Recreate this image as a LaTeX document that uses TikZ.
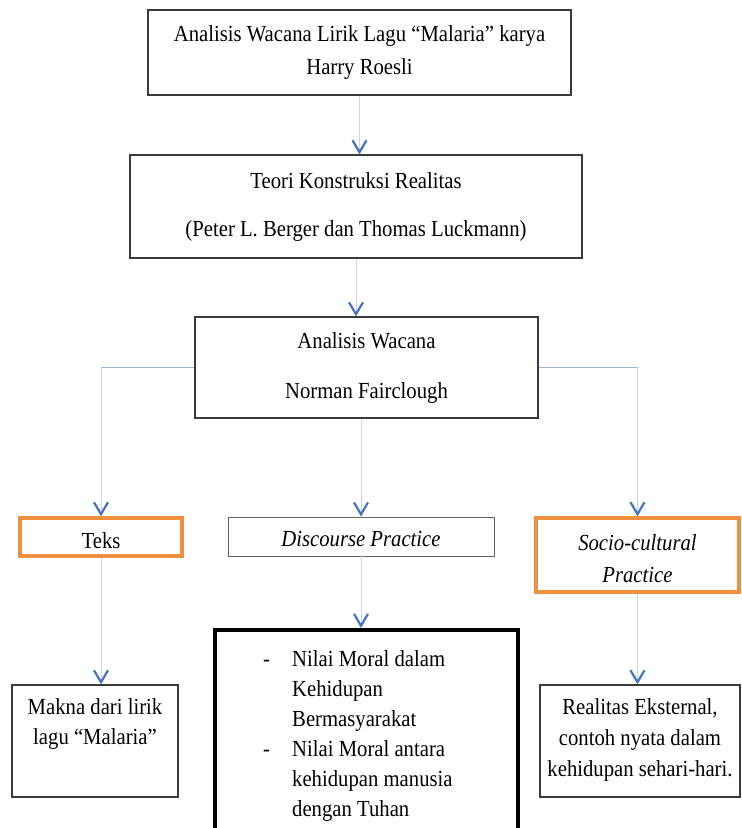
\documentclass[tikz,border=0pt]{standalone}
\usepackage{fontspec}
\setmainfont{Liberation Serif}[FakeStretch=0.9]
\usetikzlibrary{arrows.meta}
\definecolor{chev}{HTML}{4472C4}
\definecolor{connc}{HTML}{D0D5DC}
\definecolor{hlinec}{HTML}{9DB5D8}
\definecolor{orng}{HTML}{F0913F}
\definecolor{boxc}{HTML}{3A3A3A}
\begin{document}
\begin{tikzpicture}[x=1pt,y=-1pt,
  txt/.style={font=\fontsize{23}{33}\selectfont},
  box/.style={draw=boxc,line width=1.1pt,fill=white,align=center,inner sep=0pt,txt},
  obox/.style={draw=orng,line width=3.2pt,fill=white,align=center,inner sep=0pt,txt},
  conn/.style={draw=connc,line width=1pt,-{Straight Barb[length=12pt,width=14pt,line width=2.2pt,color=chev]}},
  hline/.style={draw=hlinec,line width=1pt}]
\useasboundingbox (0,0) rectangle (742,828);
\clip (0,0) rectangle (742,828);
\fill[white] (0,0) rectangle (742,828);

\node[box,minimum width=423pt,minimum height=85pt] (b1) at (359.5,52.5)
  {Analisis Wacana Lirik Lagu “Malaria” karya\\Harry Roesli};
\node[box,minimum width=452pt,minimum height=103pt] (b2) at (356,206.5)
  {Teori Konstruksi Realitas\\[15pt](Peter L. Berger dan Thomas Luckmann)};
\node[box,minimum width=343pt,minimum height=101pt] (b3) at (366.5,367.5)
  {Analisis Wacana\\[17pt]Norman Fairclough};

\node[obox,minimum width=162pt,minimum height=38pt] (teks) at (101,537) {\rule{0pt}{24pt}Teks};
\node[box,draw=boxc!80,line width=0.8pt,minimum width=266pt,minimum height=39pt] (disc) at (361,536.5)
  {\rule{0pt}{21pt}\itshape Discourse Practice};
\node[obox,minimum width=203pt,minimum height=74pt] (socio) at (637.5,555)
  {\rule{0pt}{24pt}\itshape Socio-cultural\\[-1pt]\itshape Practice};

\node[box,minimum width=166pt,minimum height=112pt] (mk) at (95,741) {};
\node[txt,align=center,inner sep=0pt,anchor=north] (mkt) at (95,698)
  {Makna dari lirik\\[-3pt]lagu “Malaria”};
\node[box,minimum width=200pt,minimum height=112pt] (rl) at (640,741) {};
\node[txt,align=center,inner sep=0pt,anchor=north] (rlt) at (640,698)
  {Realitas Eksternal,\\[-2pt]contoh nyata dalam\\[-2pt]kehidupan sehari-hari.};

\node[draw=black,line width=4pt,fill=white,minimum width=303pt,minimum height=220pt,inner sep=0pt] (mid) at (366.5,740) {};
\node[font=\fontsize{23}{30}\selectfont,align=left,inner sep=0pt,anchor=north west] (midt) at (263,650)
  {\makebox[29pt][l]{-}Nilai Moral dalam\\
   \hspace*{29pt}Kehidupan\\
   \hspace*{29pt}Bermasyarakat\\
   \makebox[29pt][l]{-}Nilai Moral antara\\
   \hspace*{29pt}kehidupan manusia\\
   \hspace*{29pt}dengan Tuhan};

\draw[conn] (b1.south) -- (b1.south |- b2.north);
\draw[conn] (b2.south) -- (b2.south |- b3.north);
\draw[conn] (disc.north |- b3.south) -- (disc.north);
\draw[hline] (b3.west) -- (b3.west -| teks.north);
\draw[conn] (b3.west -| teks.north) -- (teks.north);
\draw[hline] (b3.east) -- (b3.east -| socio.north);
\draw[conn] (b3.east -| socio.north) -- (socio.north);
\draw[conn] (teks.south) -- (teks.south |- mk.north);
\draw[conn] (disc.south) -- (disc.south |- mid.north);
\draw[conn] (socio.south) -- (socio.south |- rl.north);
\end{tikzpicture}
\end{document}
